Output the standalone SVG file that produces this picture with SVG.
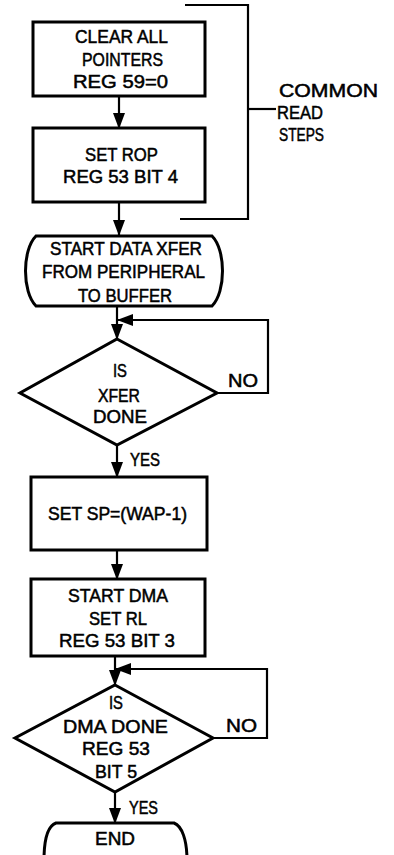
<svg xmlns="http://www.w3.org/2000/svg" width="394" height="855" viewBox="0 0 394 855">
<defs>
<marker id="ah" markerWidth="16" markerHeight="12" refX="15" refY="6" orient="auto" markerUnits="userSpaceOnUse">
<path d="M0,0 L16,6 L0,12 Z" fill="#000"/>
</marker>
</defs>
<style>
.box{fill:#fff;stroke:#000;stroke-width:3}
.ln{fill:none;stroke:#000;stroke-width:2.2}
text{font-family:"Liberation Sans",Arial,sans-serif;font-size:18px;fill:#000;stroke:#000;stroke-width:0.5}
.lb{font-size:18px}
</style>
<rect width="394" height="855" fill="#fff"/>
<g id="connectors">
<line class="ln" x1="119" y1="96" x2="119" y2="128" marker-end="url(#ah)"/>
<line class="ln" x1="119" y1="202" x2="119" y2="235" marker-end="url(#ah)"/>
<line class="ln" x1="117" y1="306" x2="117" y2="339" marker-end="url(#ah)"/>
<polyline class="ln" points="217,393 268,393 268,320 118,320" marker-end="url(#ah)"/>
<line class="ln" x1="117" y1="445" x2="117" y2="477" marker-end="url(#ah)"/>
<line class="ln" x1="117" y1="550" x2="117" y2="579" marker-end="url(#ah)"/>
<line class="ln" x1="115" y1="656" x2="115" y2="685" marker-end="url(#ah)"/>
<polyline class="ln" points="213,738 267,738 267,669 116,669" marker-end="url(#ah)"/>
<line class="ln" x1="115" y1="792" x2="115" y2="823" marker-end="url(#ah)"/>
</g>
<g id="bracket">
<polyline class="ln" points="185,5 248,5 248,219 180,219"/>
<line class="ln" x1="248" y1="109" x2="276" y2="109"/>
<text class="lb" x="279" y="97" textLength="99" lengthAdjust="spacingAndGlyphs">COMMON</text>
<text class="lb" x="277" y="119" textLength="46" lengthAdjust="spacingAndGlyphs">READ</text>
<text class="lb" x="279" y="141" textLength="45" lengthAdjust="spacingAndGlyphs">STEPS</text>
</g>
<g id="n1">
<rect class="box" x="33" y="22" width="172" height="74"/>
<text x="75" y="43" textLength="93" lengthAdjust="spacingAndGlyphs">CLEAR ALL</text>
<text x="82" y="66" textLength="81" lengthAdjust="spacingAndGlyphs">POINTERS</text>
<text x="73" y="88" textLength="95" lengthAdjust="spacingAndGlyphs">REG 59=0</text>
</g>
<g id="n2">
<rect class="box" x="33" y="128" width="172" height="74"/>
<text x="85" y="161" textLength="73" lengthAdjust="spacingAndGlyphs">SET ROP</text>
<text x="63" y="183" textLength="115" lengthAdjust="spacingAndGlyphs">REG 53 BIT 4</text>
</g>
<g id="n3">
<path class="box" d="M36,236 L212,236 C226,250 226,292 212,306 L36,306 C22,292 22,250 36,236 Z"/>
<text x="50" y="255" textLength="152" lengthAdjust="spacingAndGlyphs">START DATA XFER</text>
<text x="42" y="278" textLength="163" lengthAdjust="spacingAndGlyphs">FROM PERIPHERAL</text>
<text x="78" y="302" textLength="94" lengthAdjust="spacingAndGlyphs">TO BUFFER</text>
</g>
<g id="n4">
<polygon class="box" points="117,339 217,393 117,445 20,393"/>
<text x="113" y="377" textLength="14" lengthAdjust="spacingAndGlyphs">IS</text>
<text x="98" y="402" textLength="42" lengthAdjust="spacingAndGlyphs">XFER</text>
<text x="93" y="423" textLength="54" lengthAdjust="spacingAndGlyphs">DONE</text>
<text class="lb" x="228" y="387" textLength="30" lengthAdjust="spacingAndGlyphs">NO</text>
<text class="lb" x="130" y="466" textLength="30" lengthAdjust="spacingAndGlyphs">YES</text>
</g>
<g id="n5">
<rect class="box" x="31" y="477" width="176" height="73"/>
<text x="48" y="520" textLength="139" lengthAdjust="spacingAndGlyphs">SET SP=(WAP-1)</text>
</g>
<g id="n6">
<rect class="box" x="31" y="579" width="174" height="77"/>
<text x="68" y="602" textLength="100" lengthAdjust="spacingAndGlyphs">START DMA</text>
<text x="89" y="625" textLength="58" lengthAdjust="spacingAndGlyphs">SET RL</text>
<text x="59" y="647" textLength="116" lengthAdjust="spacingAndGlyphs">REG 53 BIT 3</text>
</g>
<g id="n7">
<polygon class="box" points="115,685 213,738 115,792 15,738"/>
<text x="109" y="709" textLength="14" lengthAdjust="spacingAndGlyphs">IS</text>
<text x="63" y="733" textLength="105" lengthAdjust="spacingAndGlyphs">DMA DONE</text>
<text x="82" y="755" textLength="68" lengthAdjust="spacingAndGlyphs">REG 53</text>
<text x="95" y="778" textLength="42" lengthAdjust="spacingAndGlyphs">BIT 5</text>
<text class="lb" x="226" y="732" textLength="31" lengthAdjust="spacingAndGlyphs">NO</text>
<text class="lb" x="129" y="814" textLength="29" lengthAdjust="spacingAndGlyphs">YES</text>
</g>
<g id="n8">
<path class="box" d="M56,823 L174,823 C182,826 187,840 187,860 L187,870 L44,870 L44,860 C44,840 48,826 56,823 Z"/>
<text x="95" y="845" textLength="40" lengthAdjust="spacingAndGlyphs">END</text>
</g>
</svg>
